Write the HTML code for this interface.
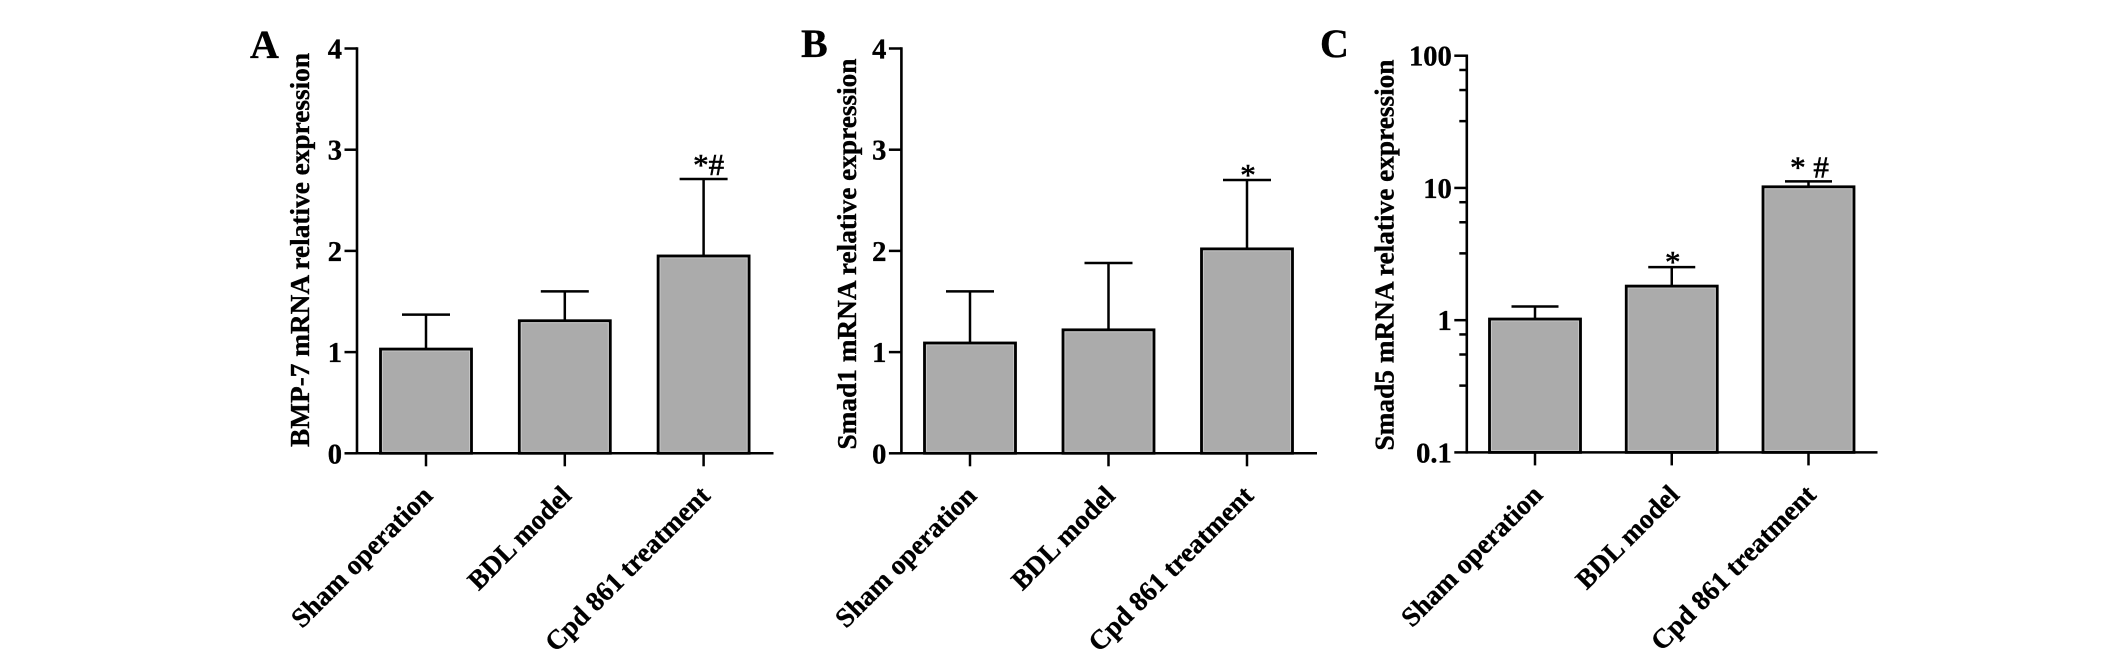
<!DOCTYPE html>
<html lang="en">
<head>
<meta charset="utf-8">
<title>Relative mRNA expression of BMP-7, Smad1 and Smad5</title>
<style>
html,body{margin:0;padding:0;background:#fff;}
svg{display:block;}
text{font-family:"Liberation Serif",serif;fill:#000;stroke:#000;stroke-width:0.35px;}
</style>
</head>
<body>
<svg id="figure" xmlns="http://www.w3.org/2000/svg" width="2126" height="661" viewBox="0 0 2126 661"></svg>
<script>
var categories = ['Sham operation', 'BDL model', 'Cpd 861 treatment'];

var bmp7Means = [1.03, 1.31, 1.95];
var bmp7ErrorTops = [1.37, 1.60, 2.71];
var bmp7Marks = ['', '', '*#'];

var smad1Means = [1.09, 1.22, 2.02];
var smad1ErrorTops = [1.60, 1.88, 2.70];
var smad1Marks = ['', '', '*'];

var smad5Means = [1.02, 1.81, 10.2];
var smad5ErrorTops = [1.27, 2.52, 11.2];
var smad5Marks = ['', '*', '* #'];

var linearTicks = [0, 1, 2, 3, 4];
var linearTickLabels = ['0', '1', '2', '3', '4'];
var logTicks = [0.1, 1, 10, 100];
var logTickLabels = ['0.1', '1', '10', '100'];
var logMinorFactors = [0.78, 0.55, 0.32];

var svg = document.getElementById('figure');
var NS = 'http://www.w3.org/2000/svg';

function linearScale(top, bottom, max) {
  return function (v) { return bottom - (v / max) * (bottom - top); };
}
function logScale(top, bottom, min, max) {
  return function (v) {
    return bottom - (Math.log10(v) - Math.log10(min)) / (Math.log10(max) - Math.log10(min)) * (bottom - top);
  };
}
function addLine(parent, x1, y1, x2, y2, w) {
  var el = document.createElementNS(NS, 'line');
  el.setAttribute('x1', x1);
  el.setAttribute('y1', y1);
  el.setAttribute('x2', x2);
  el.setAttribute('y2', y2);
  el.setAttribute('stroke', '#000');
  el.setAttribute('stroke-width', w);
  parent.appendChild(el);
  return el;
}
function addText(parent, str, x, y, size, anchor, bold) {
  var el = document.createElementNS(NS, 'text');
  el.setAttribute('x', x);
  el.setAttribute('y', y);
  el.setAttribute('font-size', size);
  el.setAttribute('text-anchor', anchor);
  if (bold) { el.setAttribute('font-weight', 'bold'); }
  el.textContent = str;
  parent.appendChild(el);
  return el;
}

function drawPanel(p) {
  var g = document.createElementNS(NS, 'g');
  
  
  svg.appendChild(g);

  var letter = addText(g, p.letter, p.letterX, p.letterY, 40, 'start', true);
  
  

  var title = addText(g, p.title, 0, 0, 27.3, 'middle', true);
  title.setAttribute('transform', 'translate(' + p.titleX + ',' + p.titleY + ') rotate(-90)');
  
  

  p.means.forEach(function (m, i) {
    var cx = p.x0 + i * p.step;
    var yTop = p.y(m);

    var stem = addLine(g, cx, yTop, cx, p.y(p.errorTops[i]), 2.5);
    
    

    var cap = addLine(g, cx - p.capHalf, p.y(p.errorTops[i]), cx + p.capHalf, p.y(p.errorTops[i]), 2.5);
    
    

    var bar = document.createElementNS(NS, 'rect');
    bar.setAttribute('x', cx - p.barW / 2);
    bar.setAttribute('y', yTop);
    bar.setAttribute('width', p.barW);
    bar.setAttribute('height', p.bottom - yTop);
    bar.setAttribute('fill', '#ababab');
    bar.setAttribute('stroke', '#000');
    bar.setAttribute('stroke-width', 2.8);
    
    
    g.appendChild(bar);

    var inner = document.createElementNS(NS, 'rect');
    inner.setAttribute('x', cx - p.barW / 2 + 2);
    inner.setAttribute('y', yTop + 2);
    inner.setAttribute('width', p.barW - 4);
    inner.setAttribute('height', Math.max(0, p.bottom - yTop - 4));
    inner.setAttribute('fill', 'none');
    inner.setAttribute('stroke', '#c8c8c8');
    inner.setAttribute('stroke-width', 0.9);
    
    
    g.appendChild(inner);

    if (p.marks[i]) {
      var markGap = p.marks[i] === '*' ? -5 : 4;
      var mark = addText(g, p.marks[i], cx + p.markDx, p.y(p.errorTops[i]) - markGap, 31, 'middle', false);
      mark.style.strokeWidth = '0.6px';
      
      
    }

    var tick = addLine(g, cx, p.bottom, cx, p.bottom + 13, 2.5);
    
    

    var label = addText(g, categories[i], 0, 0, 27.4, 'end', true);
    label.setAttribute('transform', 'translate(' + (cx + p.labelDx) + ',' + (p.bottom + p.labelDy) + ') rotate(-45)');
    
    
  });

  var yAxis = addLine(g, p.axisX, p.top - 1.2, p.axisX, p.bottom + 1.2, 2.6);
  
  

  var xAxis = addLine(g, p.axisX, p.bottom, p.xEnd, p.bottom, 2.5);
  
  

  p.ticks.forEach(function (t, i) {
    var yt = p.y(t);

    var tk = addLine(g, p.axisX - 12.5, yt, p.axisX, yt, 2.5);
    
    

    var lb = addText(g, p.tickLabels[i], p.axisX - 15, yt + 10, 28.5, 'end', true);
    
    

    if (p.minor && i > 0) {
      p.minor.forEach(function (f) {
        var ym = p.y(t * f);
        var mt = addLine(g, p.axisX - 7.5, ym, p.axisX, ym, 2.5);
        
        
      });
    }
  });
}

drawPanel({
  letter: 'A', letterX: 250, letterY: 58,
  title: 'BMP-7 mRNA relative expression', titleX: 309, titleY: 250,
  means: bmp7Means, errorTops: bmp7ErrorTops, marks: bmp7Marks,
  ticks: linearTicks, tickLabels: linearTickLabels,
  top: 48.5, bottom: 453.3, y: linearScale(48.5, 453.3, 4),
  axisX: 357, xEnd: 773.5,
  x0: 426, step: 138.8, barW: 91, capHalf: 24, markDx: 5,
  labelDx: 8, labelDy: 44
});
drawPanel({
  letter: 'B', letterX: 801, letterY: 57,
  title: 'Smad1 mRNA relative expression', titleX: 856, titleY: 254,
  means: smad1Means, errorTops: smad1ErrorTops, marks: smad1Marks,
  ticks: linearTicks, tickLabels: linearTickLabels,
  top: 48.5, bottom: 453.3, y: linearScale(48.5, 453.3, 4),
  axisX: 901.4, xEnd: 1317,
  x0: 970, step: 138.5, barW: 91, capHalf: 24, markDx: 1,
  labelDx: 8, labelDy: 44
});
drawPanel({
  letter: 'C', letterX: 1320, letterY: 57,
  title: 'Smad5 mRNA relative expression', titleX: 1393.5, titleY: 255,
  means: smad5Means, errorTops: smad5ErrorTops, marks: smad5Marks,
  ticks: logTicks, tickLabels: logTickLabels, minor: logMinorFactors,
  top: 55.7, bottom: 452.4, y: logScale(55.7, 452.4, 0.1, 100),
  axisX: 1466.8, xEnd: 1877.5,
  x0: 1535, step: 136.75, barW: 91, capHalf: 23.5, markDx: 1,
  labelDx: 9, labelDy: 44
});
</script>
</body>
</html>
